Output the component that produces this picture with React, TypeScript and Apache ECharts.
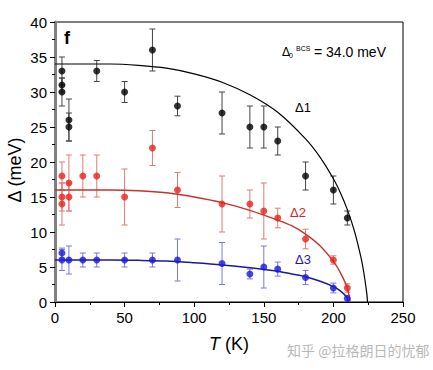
import React, { useEffect, useRef } from "react";
import * as echarts from "echarts";

// Δ1 (black) data
const tBlack = [5, 5, 5, 10, 10, 30, 50, 70, 88, 120, 140, 150, 160, 180, 200, 210];
const d1 = [33, 31, 30, 26, 25, 33, 30, 36, 28, 27, 25, 25, 23, 18, 16, 12];
const e1 = [2, 1, 2, 3, 2, 1.5, 1.5, 3, 1.4, 3, 3, 3, 2, 2, 2, 1];

// Δ2 (red) data
const tRed = [5, 5, 5, 10, 10, 20, 30, 50, 70, 88, 120, 140, 150, 160, 180, 200, 210];
const d2 = [18, 15, 14, 17, 15, 18, 18, 15, 22, 16, 14, 14, 13, 12, 9, 6, 2];
const e2 = [2, 2, 3, 4, 2, 3, 3, 4, 2.5, 2.5, 4, 2, 4, 1.4, 1.4, 0.6, 0.6];

// Δ3 (blue) data
const tBlue = [5, 5, 10, 20, 30, 50, 70, 88, 120, 140, 150, 160, 180, 200, 210];
const d3 = [7, 6, 6, 6, 6, 6, 6, 6, 5.5, 4, 5, 4.7, 3.5, 2, 0.5];
const e3 = [0.7, 1.5, 2, 1, 1, 1, 1, 3, 3, 0.7, 3, 1, 1, 0.7, 0.4];

// BCS fit curves
const fitT1 = [0, 20, 40, 60, 80, 100, 120, 140, 160, 180, 190, 200, 205, 210, 215, 220, 222, 224, 224.5];
const fit1 = [34, 34, 34, 33.8, 33.4, 32.6, 31.4, 29.6, 27.1, 23.3, 20.8, 17.6, 15.6, 13.2, 10.2, 6.2, 4.0, 1.2, 0];
const fitT2 = [0, 20, 40, 60, 80, 100, 120, 140, 160, 170, 180, 190, 200, 205, 210, 212];
const fit2 = [16, 16, 16, 15.9, 15.6, 15.0, 14.2, 13.1, 11.7, 10.9, 9.7, 8.1, 5.8, 4.2, 2.0, 0];
const fitT3 = [0, 20, 40, 60, 80, 100, 120, 140, 160, 170, 180, 190, 200, 205, 210, 210.5];
const fit3 = [6, 6, 6, 5.95, 5.85, 5.6, 5.3, 4.9, 4.4, 4.0, 3.6, 3.0, 2.2, 1.6, 0.6, 0];

const xTicks = [0, 50, 100, 150, 200, 250];
const yTicks = [0, 5, 10, 15, 20, 25, 30, 35, 40];

const FONT = "Liberation Sans, Arial, sans-serif";

function errSeries(t: number[], d: number[], e: number[], color: string) {
  return {
    type: "custom",
    z: 1,
    silent: true,
    data: t.map((x, i) => [x, d[i], e[i]]),
    renderItem: (params: any, api: any) => {
      const x = api.value(0);
      const y = api.value(1);
      const er = api.value(2);
      const top = api.coord([x, y + er]);
      const bot = api.coord([x, y - er]);
      const cw = 3;
      const st = { stroke: color, lineWidth: 1 };
      return {
        type: "group",
        children: [
          { type: "line", shape: { x1: top[0], y1: top[1], x2: bot[0], y2: bot[1] }, style: st },
          { type: "line", shape: { x1: top[0] - cw, y1: top[1], x2: top[0] + cw, y2: top[1] }, style: st },
          { type: "line", shape: { x1: bot[0] - cw, y1: bot[1], x2: bot[0] + cw, y2: bot[1] }, style: st },
        ],
      };
    },
  };
}

function scatter(t: number[], d: number[], color: string) {
  return {
    type: "scatter",
    z: 3,
    symbolSize: 7,
    itemStyle: { color },
    data: t.map((x, i) => [x, d[i]]),
  };
}

function fitLine(t: number[], d: number[], color: string, w: number) {
  return {
    type: "line",
    z: 2,
    showSymbol: false,
    smooth: 0.3,
    lineStyle: { color, width: w },
    data: t.map((x, i) => [x, d[i]]),
  };
}

export default function App() {
  const ref = useRef<HTMLDivElement>(null);
  useEffect(() => {
    if (!ref.current) return;
    const chart = echarts.init(ref.current, undefined, { renderer: "svg" });
    chart.setOption({
      animation: false,
      backgroundColor: "#fff",
      grid: {
        left: 55,
        right: 30,
        top: 22,
        bottom: 68,
        containLabel: false,
        outerBoundsMode: "none",
        show: true,
        borderColor: "#000",
        borderWidth: 1,
      },
      xAxis: {
        type: "value",
        min: 0,
        max: 250,
        interval: 50,
        name: "{i|T} (K)",
        nameLocation: "middle",
        nameGap: 33,
        nameTextStyle: {
          fontSize: 18,
          fontFamily: FONT,
          color: "#000",
          rich: { i: { fontStyle: "italic", fontSize: 18, fontFamily: FONT, color: "#000" } },
        },
        axisLine: { show: true, lineStyle: { color: "#000", width: 1 } },
        axisTick: { show: true, length: 5, lineStyle: { color: "#000" } },
        minorTick: { show: true, splitNumber: 2, length: 3, lineStyle: { color: "#000" } },
        splitLine: { show: false },
        axisLabel: {
          fontSize: 15,
          fontFamily: FONT,
          color: "#000",
          margin: 8,
          formatter: (v: number) => (xTicks.includes(v) ? String(v) : ""),
        },
      },
      yAxis: {
        type: "value",
        min: 0,
        max: 40,
        interval: 5,
        axisLine: { show: true, lineStyle: { color: "#808080", width: 3 } },
        axisTick: { show: true, length: 5, lineStyle: { color: "#000" } },
        minorTick: { show: true, splitNumber: 2, length: 3, lineStyle: { color: "#000" } },
        splitLine: { show: false },
        axisLabel: {
          fontSize: 15,
          fontFamily: FONT,
          color: "#000",
          margin: 8,
          formatter: (v: number) => (yTicks.includes(v) ? String(v) : ""),
        },
      },
      series: [
        errSeries(tBlack, d1, e1, "#444"),
        errSeries(tRed, d2, e2, "#e07a7a"),
        errSeries(tBlue, d3, e3, "#7a7ad8"),
        fitLine(fitT1, fit1, "#000", 1.2),
        fitLine(fitT2, fit2, "#c83228", 1.4),
        fitLine(fitT3, fit3, "#1a1aa0", 1.5),
        scatter(tBlack, d1, "#000"),
        scatter(tRed, d2, "#e8221c"),
        scatter(tBlue, d3, "#1818e0"),
      ],
      graphic: [
        {
          type: "text",
          x: 15,
          y: 170,
          rotation: Math.PI / 2,
          style: {
            text: "Δ (meV)",
            font: `18px ${FONT}`,
            fill: "#000",
            align: "center",
            verticalAlign: "middle",
          },
        },
        { type: "text", x: 64, y: 29, style: { text: "f", font: `bold 18px ${FONT}`, fill: "#000" } },
        { type: "text", x: 282, y: 46, style: { text: "Δ", font: `12px ${FONT}`, fill: "#000" } },
        { type: "text", x: 289, y: 52, style: { text: "0", font: `7px ${FONT}`, fill: "#000" } },
        { type: "text", x: 296, y: 45, style: { text: "BCS", font: `7px ${FONT}`, fill: "#000" } },
        { type: "text", x: 314, y: 45, style: { text: "= 34.0 meV", font: `14px ${FONT}`, fill: "#000" } },
        { type: "text", x: 295, y: 101, style: { text: "Δ1", font: `13px ${FONT}`, fill: "#000" } },
        { type: "text", x: 290, y: 206, style: { text: "Δ2", font: `13px ${FONT}`, fill: "#d02a22" } },
        { type: "text", x: 295, y: 253, style: { text: "Δ3", font: `13px ${FONT}`, fill: "#1a1ab0" } },
        {
          type: "text",
          x: 287,
          y: 343,
          style: { text: "知乎 @拉格朗日的忧郁", font: `14px "Noto Sans CJK SC", sans-serif`, fill: "#b8b8b8" },
        },
      ],
    });
    return () => chart.dispose();
  }, []);
  return <div ref={ref} style={{ width: 433, height: 370, position: "absolute", left: 0, top: 0 }} />;
}
